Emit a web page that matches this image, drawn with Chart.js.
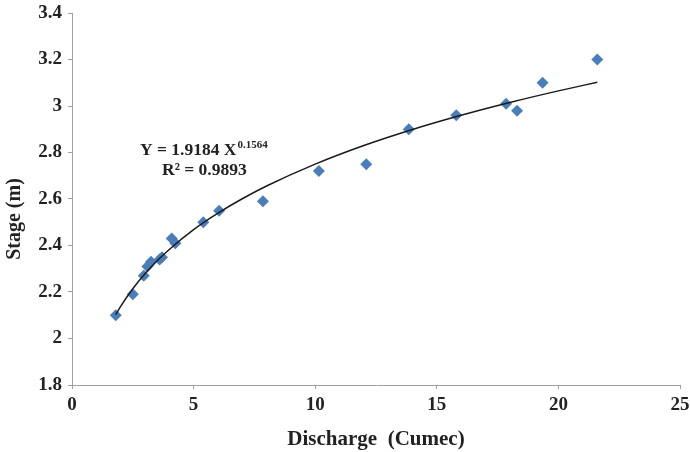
<!DOCTYPE html>
<html>
<head>
<meta charset="utf-8">
<script src="https://cdn.jsdelivr.net/npm/chart.js@4"></script>
<style>
  html, body { margin: 0; padding: 0; background: #fff; }
  #wrap { width: 690px; height: 452px; }
</style>
</head>
<body>
<div id="wrap"><canvas id="myChart" width="690" height="452"></canvas></div>
<script>
var discharge = [1.8, 2.5, 2.95, 3.1, 3.25, 3.6, 3.7, 4.1, 4.25, 5.4, 6.05, 7.85, 10.15, 12.1, 13.85, 15.8, 17.85, 18.3, 19.35, 21.6];
var stage = [2.10, 2.19, 2.27, 2.31, 2.33, 2.34, 2.35, 2.43, 2.41, 2.50, 2.55, 2.59, 2.72, 2.75, 2.90, 2.96, 3.01, 2.98, 3.10, 3.20];

// power trend line Y = 1.9184 X^0.1564, sampled values
var trendX = [1.8, 2.0, 2.5, 3, 3.5, 4, 5, 6, 7, 8, 10, 12, 14, 16, 18, 20, 21.6];
var trendY = [2.103, 2.138, 2.214, 2.278, 2.334, 2.383, 2.468, 2.539, 2.601, 2.656, 2.750, 2.830, 2.899, 2.960, 3.015, 3.065, 3.102];

var xTicks = [0, 5, 10, 15, 20, 25];
var yTicks = [1.8, 2, 2.2, 2.4, 2.6, 2.8, 3, 3.2, 3.4];

var serif = "'Liberation Serif', 'Times New Roman', serif";

// equation box + y axis title
var eqLabel = {
  id: "eqLabel",
  afterDraw: function (chart) {
    var ctx = chart.ctx;
    ctx.save();
    ctx.fillStyle = "#222";
    ctx.textBaseline = "alphabetic";
    ctx.textAlign = "left";
    ctx.font = "bold 17.5px " + serif;
    var a = "Y = 1.9184 X";
    ctx.fillText(a, 140, 155);
    var w = ctx.measureText(a).width;
    ctx.font = "bold 11px " + serif;
    ctx.fillText("0.1564", 140 + w + 1, 148);
    ctx.font = "bold 17.5px " + serif;
    ctx.fillText("R\u00B2 = 0.9893", 162, 175);

    ctx.translate(15, 219);
    ctx.rotate(-Math.PI / 2);
    ctx.textAlign = "center";
    ctx.textBaseline = "middle";
    ctx.font = "bold 20px " + serif;
    ctx.fillText("Stage (m)", 0, 0);
    ctx.restore();
  }
};

var pts = discharge.map(function (d, i) { return { x: d, y: stage[i] }; });
var trend = trendX.map(function (d, i) { return { x: d, y: trendY[i] }; });

new Chart("myChart", {
  type: "scatter",
  data: {
    datasets: [
      {
        data: trend,
        showLine: true,
        borderColor: "#1a1a1a",
        borderWidth: 1.5,
        pointRadius: 0,
        cubicInterpolationMode: "monotone",
        fill: false,
      },
      {
        data: pts,
        pointStyle: "rectRot",
        pointRadius: 6,
        backgroundColor: "#4a7ebb",
        borderColor: "#4a7ebb",
        borderWidth: 0,
      },
    ],
  },
  options: {
    responsive: false,
    animation: false,
    layout: { padding: { top: 13, right: 10, left: 0, bottom: 0 } },
    plugins: { legend: { display: false }, tooltip: { enabled: false } },
    scales: {
      x: {
        type: "linear",
        min: 0,
        max: 25,
        afterBuildTicks: function (s) { s.ticks = xTicks.map(function (v) { return { value: v }; }); },
        afterFit: function (s) { s.height = 67; s.paddingRight = 0; s.paddingLeft = 0; },
        grid: { drawOnChartArea: false, drawTicks: true, tickLength: 4, color: "#a0a0a0" },
        border: { color: "#a0a0a0", width: 1 },
        ticks: { color: "#222", padding: 5, font: { family: serif, size: 19, weight: "bold" } },
        title: {
          display: true,
          text: "Discharge  (Cumec)",
          color: "#222",
          font: { family: serif, size: 21, weight: "bold" },
          padding: { top: 2, bottom: 0 },
        },
      },
      y: {
        min: 1.8,
        max: 3.4,
        afterBuildTicks: function (s) { s.ticks = yTicks.map(function (v) { return { value: v }; }); },
        afterFit: function (s) { s.width = 72; s.paddingTop = 0; s.paddingBottom = 0; },
        grid: { drawOnChartArea: false, drawTicks: true, tickLength: 4, color: "#a0a0a0" },
        border: { color: "#a0a0a0", width: 1 },
        ticks: {
          color: "#222",
          padding: 6,
          font: { family: serif, size: 19, weight: "bold" },
          callback: function (v) { return String(Math.round(v * 10) / 10); },
        },
        title: { display: false },
      },
    },
  },
  plugins: [eqLabel],
});
</script>
</body>
</html>
